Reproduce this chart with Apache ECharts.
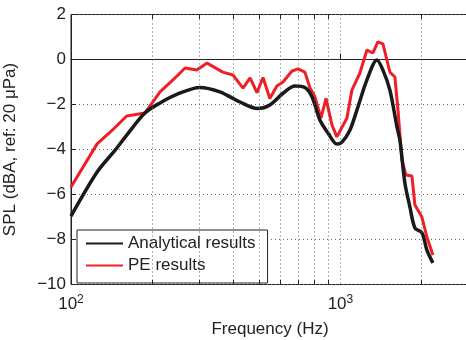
<!DOCTYPE html>
<html><head><meta charset="utf-8">
<script src="https://cdn.jsdelivr.net/npm/echarts@6/dist/echarts.min.js"></script>
<style>html,body{margin:0;padding:0;background:#fff}#c{width:466px;height:340px}</style>
</head><body><div id="c"></div>
<script>
// Analytical results
const freqA = [100,125,146,161,188,214,247,301,357,424,492,547,612,678,738,784,839,899,970,1013,1085,1152,1254,1366,1438,1526,1621,1663,1735,1811,1890,2006,2094,2204];
const splA  = [-6.96,-5.0,-4.02,-3.36,-2.38,-1.93,-1.55,-1.24,-1.44,-1.89,-2.18,-2.02,-1.5,-1.18,-1.24,-1.66,-2.69,-3.27,-3.76,-3.67,-3.13,-2.24,-0.91,-0.02,-0.47,-1.36,-3.0,-3.6,-5.5,-6.56,-7.49,-7.7,-8.47,-9.04];
// PE results
const freqPE = [100,125,140,161,188,214,239,265,293,320,366,399,435,462,490,516,547,581,612,661,696,738,771,804,847,884,930,970,1057,1103,1181,1254,1320,1377,1438,1526,1593,1635,1691,1750,1842,1890,2006,2094,2204];
const splPE  = [-5.67,-3.75,-3.22,-2.51,-2.38,-1.44,-0.91,-0.38,-0.47,-0.16,-0.56,-0.69,-1.27,-0.82,-1.47,-0.8,-1.73,-1.18,-1.0,-0.51,-0.42,-0.56,-1.27,-1.66,-2.6,-1.73,-2.91,-3.44,-2.6,-1.36,-0.6,0.42,0.29,0.78,0.69,-0.56,-0.78,-2.24,-4.47,-5.13,-5.18,-6.47,-7.0,-7.9,-8.69];
const minorFreqs = [200,300,400,500,600,700,800,900,2000];
const yTicks = [-10,-8,-6,-4,-2,0,2];

const FONT = 'Liberation Sans';
const dotted = {type:[1,3], color:'#666', width:1};
const markData = [];
minorFreqs.forEach(f => {
  markData.push([{coord:[f,-10], lineStyle:dotted},{coord:[f,2]}]);
  markData.push([{coord:[f,-10], lineStyle:{color:'#222',width:1,type:'solid'}},{coord:[f,-9.8]}]);
  markData.push([{coord:[f,2], lineStyle:{color:'#222',width:1,type:'solid'}},{coord:[f,1.8]}]);
});

const chart = echarts.init(document.getElementById('c'), null, {renderer:'canvas'});
chart.setOption({
  animation:false,
  textStyle:{fontFamily:FONT},
  grid:{left:71, top:14.5, right:-3, bottom:55.5, containLabel:false, outerBoundsMode:'none',
        show:true, borderColor:'#222', borderWidth:1, backgroundColor:'#fff'},
  xAxis:{
    type:'log', logBase:10, min:100, max:3000,
    name:'Frequency (Hz)', nameLocation:'middle', nameGap:36,
    nameTextStyle:{fontSize:17, color:'#222', fontFamily:FONT},
    axisLine:{show:true, lineStyle:{color:'#222'}},
    axisTick:{show:true, inside:true, length:6, lineStyle:{color:'#222'}},
    splitLine:{show:true, lineStyle:dotted},
    axisLabel:{
      margin:9, color:'#222', fontFamily:FONT, showMaxLabel:false,
      formatter: v => (Math.abs(Math.log10(v) - Math.round(Math.log10(v))) < 1e-6 ? '{b|10}{s|' + Math.round(Math.log10(v)) + '}' : ''),
      rich:{b:{fontSize:17, fontFamily:FONT, color:'#222'}, s:{fontSize:12, fontFamily:FONT, color:'#222', padding:[0,0,9,0]}}
    }
  },
  yAxis:{
    type:'value', min:-10, max:2, interval:2,
    name:'SPL (dBA, ref: 20 μPa)', nameLocation:'middle', nameGap:52,
    nameTextStyle:{fontSize:17, color:'#222', fontFamily:FONT},
    axisLine:{show:true, lineStyle:{color:'#222'}},
    axisTick:{show:true, inside:true, length:5, lineStyle:{color:'#222'}},
    splitLine:{show:true, lineStyle:dotted},
    axisLabel:{margin:5, fontSize:17, color:'#222', fontFamily:FONT,
      formatter: v => (v < 0 ? '\u2212' + Math.abs(v) : String(v))}
  },
  legend:{
    left:77, top:230, orient:'vertical',
    backgroundColor:'#fff', borderColor:'#222', borderWidth:1,
    padding:[5,12,9,8], itemGap:5, itemWidth:37, itemHeight:14,
    itemStyle:{opacity:0},
    textStyle:{fontSize:17, color:'#222', fontFamily:FONT},
    data:['Analytical results','PE results']
  },
  series:[
    {name:'Analytical results', type:'line', data:freqA.map((f,i)=>[f,splA[i]]),
     showSymbol:false, symbol:'none', smooth:0.3, z:3,
     lineStyle:{color:'#1a1a1a', width:3.5}, itemStyle:{color:'#1a1a1a'},
     markLine:{silent:true, symbol:'none', label:{show:false}, animation:false, data:markData}},
    {name:'PE results', type:'line', data:freqPE.map((f,i)=>[f,splPE[i]]),
     showSymbol:false, symbol:'none', z:2,
     lineStyle:{color:'#ee1f26', width:3}, itemStyle:{color:'#ee1f26'}}
  ]
});
</script></body></html>
